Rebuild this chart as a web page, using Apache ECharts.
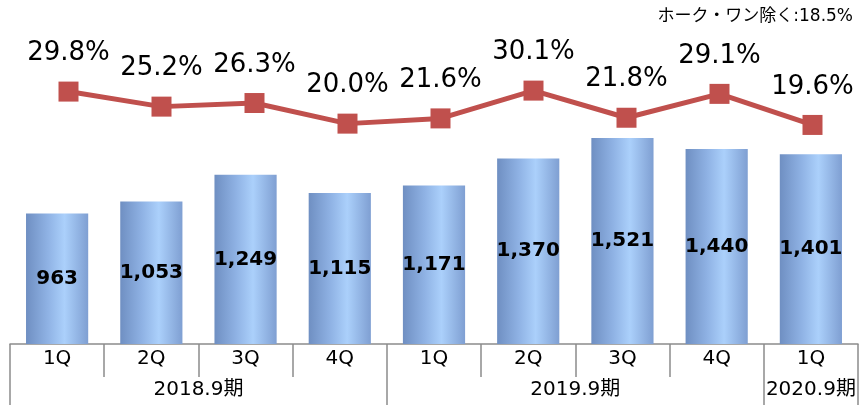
<!DOCTYPE html>
<html>
<head>
<meta charset="utf-8">
<script src="https://cdn.jsdelivr.net/npm/echarts@6/dist/echarts.min.js"></script>
<style>
  html, body { margin: 0; padding: 0; background: #fff; }
  #mainChart { width: 859px; height: 405px; }
</style>
</head>
<body>
<div id="mainChart"></div>
<script>
  // quarters, fiscal year groups and values
  var quarters = ['1Q', '2Q', '3Q', '4Q', '1Q', '2Q', '3Q', '4Q', '1Q'];
  var groups = ['2018.9期', '2019.9期', '2020.9期'];
  var groupSizes = [4, 4, 1];
  var sales = [963, 1053, 1249, 1115, 1171, 1370, 1521, 1440, 1401];
  var ratio = [29.8, 25.2, 26.3, 20.0, 21.6, 30.1, 21.8, 29.1, 19.6];
  var note = 'ホーク・ワン除く:18.5%';

  // group boundaries and label centres on a 0..9 scale
  var bounds = [0], centres = [];
  groupSizes.forEach(function (n, i) {
    var start = bounds[bounds.length - 1];
    centres.push(start + n / 2);
    bounds.push(start + n);
  });

  var font = '"DejaVu Sans", Verdana, "Noto Sans CJK JP", sans-serif';

  var chart = echarts.init(document.getElementById('mainChart'));

  var option = {
    animation: false,
    textStyle: { fontFamily: font },
    graphic: [{
      type: 'text',
      right: 6,
      top: 8,
      style: { text: note, font: '17px ' + font, fill: '#000' }
    }],
    grid: [
      { left: 10, right: 1, top: 19, bottom: 61 },
      // the line sits on its own, slightly shifted secondary axis
      { left: 22, width: 842, top: 19, bottom: 61 }
    ],
    xAxis: [
      {
        type: 'category',
        data: quarters,
        axisLine: { onZero: false, lineStyle: { color: '#8c8c8c', width: 1.5 } },
        axisTick: { show: true, length: 33, lineStyle: { color: '#8c8c8c', width: 1.5 } },
        axisLabel: { color: '#000', fontSize: 20, margin: 5, fontFamily: font }
      },
      {
        type: 'value',
        position: 'bottom',
        min: 0,
        max: 9,
        axisLine: { show: false, onZero: false },
        splitLine: { show: false },
        axisTick: {
          show: true,
          customValues: bounds,
          length: 61,
          lineStyle: { color: '#8c8c8c', width: 1.5 }
        },
        axisLabel: {
          customValues: centres,
          margin: 36,
          color: '#000',
          fontSize: 20,
          fontFamily: font,
          formatter: function (v) { return groups[centres.indexOf(v)]; }
        }
      },
      { type: 'category', gridIndex: 1, data: quarters, show: false }
    ],
    yAxis: [
      { type: 'value', min: 0, max: 2400, show: false },
      { type: 'value', gridIndex: 1, min: -47.4, max: 52, show: false }
    ],
    series: [
      {
        name: 'sales',
        type: 'bar',
        data: sales,
        barWidth: '66%',
        itemStyle: {
          color: new echarts.graphic.LinearGradient(0, 0, 1, 0, [
            { offset: 0, color: '#6f8fc2' },
            { offset: 0.35, color: '#8fb2e4' },
            { offset: 0.62, color: '#abd0fb' },
            { offset: 1, color: '#7f9fd2' }
          ])
        },
        label: {
          show: true,
          position: 'inside',
          color: '#000',
          fontSize: 20,
          fontWeight: 'bold',
          fontFamily: font,
          formatter: function (p) { return p.value.toLocaleString('en-US'); }
        }
      },
      {
        name: 'ratio',
        type: 'line',
        xAxisIndex: 2,
        yAxisIndex: 1,
        data: ratio,
        symbol: 'rect',
        symbolSize: 20,
        lineStyle: { color: '#c0504d', width: 5 },
        itemStyle: { color: '#c0504d' },
        label: {
          show: true,
          position: 'top',
          distance: 15,
          color: '#000',
          fontSize: 26,
          fontFamily: font,
          formatter: function (p) { return p.value.toFixed(1) + '%'; }
        },
        z: 5
      }
    ]
  };

  chart.setOption(option);
</script>
</body>
</html>
